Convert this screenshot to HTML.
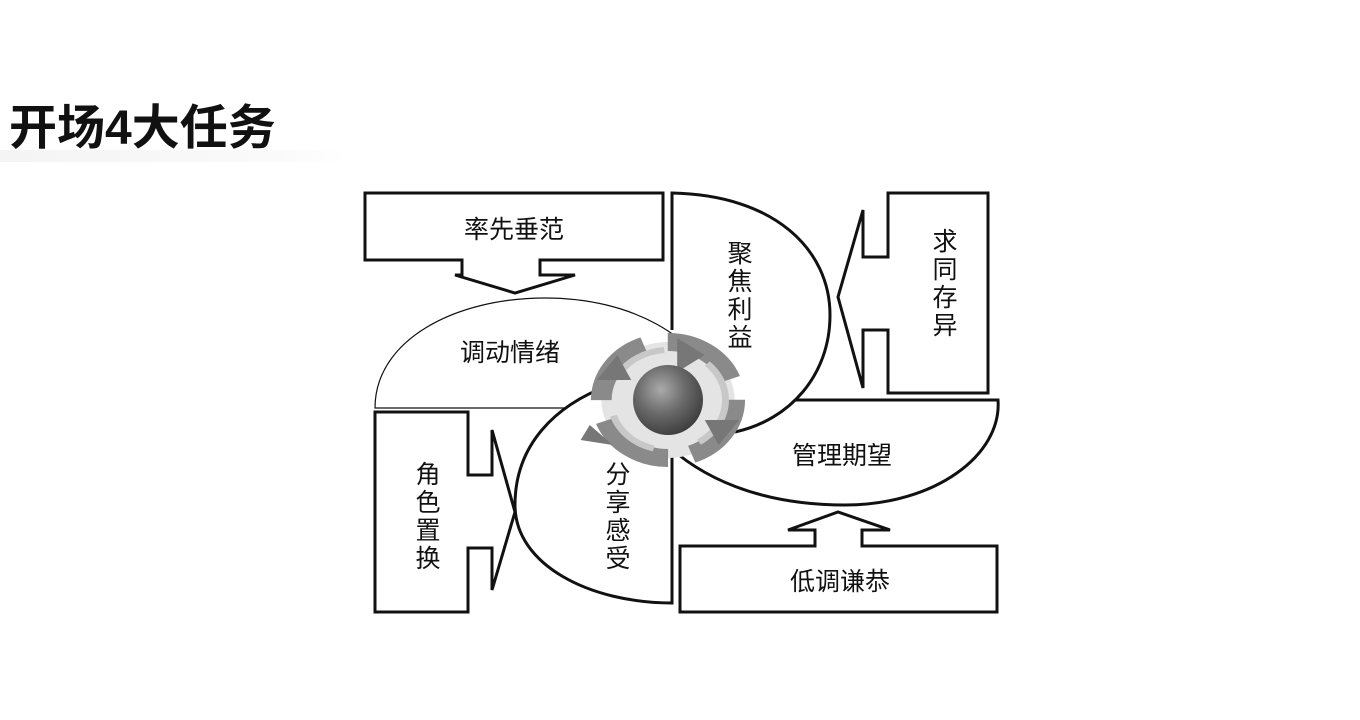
<!DOCTYPE html>
<html><head><meta charset="utf-8"><style>
body{margin:0;width:1360px;height:720px;background:#fff;overflow:hidden;position:relative;font-family:"Liberation Sans","Noto Sans CJK SC",sans-serif}
.t{position:absolute;left:9px;top:88px;font-size:48px;font-weight:bold;color:#111;letter-spacing:0px}
.u{position:absolute;left:0;top:150px;width:345px;height:12px;background:linear-gradient(90deg,#f4f4f4,#fafafa 80%,#fff)}
svg{position:absolute;left:0;top:0}
text{font-family:"Liberation Sans","Noto Sans CJK SC",sans-serif;font-size:25px;fill:#111}
</style></head><body>
<div class="u"></div>
<div class="t">开场4大任务</div>
<svg width="1360" height="720">
<defs>
<radialGradient id="g" cx="40%" cy="35%" r="70%"><stop offset="0" stop-color="#aaa"/><stop offset=".5" stop-color="#6a6a6a"/><stop offset="1" stop-color="#3a3a3a"/></radialGradient>
</defs>
<g fill="#fff" stroke="#111" stroke-width="3" stroke-linejoin="miter">
<path d="M365,193 H663 V260 H540 V275 H575 L515,293 L455,275 H462 V260 H365 Z"/>
<path d="M888,193 H988 V393 H888 V330 H863 V388 L838,297 L863,210 V257 H888 Z"/>
<path d="M375,412 H468 V475 H492 V430 L515,512 L492,590 V548 H468 V612 H375 Z"/>
<path d="M680,546 H815 V530 H788 L838,512 L890,530 H862 V546 H997 V612 H680 Z"/>
</g>
<path d="M375,408 C375,340 455,298 545,298 C630,298 700,335 722,398 L600,390 L583,408 Z" fill="#fff" stroke="none"/>
<path d="M583,408 H375 C375,340 455,298 545,298 C630,298 700,335 722,398" fill="none" stroke="#111" stroke-width="1.2"/>
<g fill="#fff" stroke="none">
<path d="M672,455 V603 C590,603 515,565 515,505 C515,445 555,405 610,385 L672,455 Z"/>
<path d="M672,330 V193 C775,195 830,250 830,315 C830,375 790,420 735,432 L672,330 Z"/>
<path d="M795,400 H998 C1002,455 935,505 845,505 C760,505 700,478 662,440 Z"/>
</g>
<g fill="none" stroke="#111" stroke-width="3">
<path d="M672,455 V603 C590,603 515,565 515,505 C515,445 555,405 610,385"/>
<path d="M672,330 V193 C775,195 830,250 830,315 C830,375 790,420 735,432"/>
<path d="M795,400 H998 C1002,455 935,505 845,505 C760,505 700,478 662,440"/>
</g>
<g transform="translate(668,400) scale(1.15,1) translate(-668,-400)">
<circle cx="668" cy="400" r="58" fill="#e4e4e4" stroke="none"/>
<circle cx="668" cy="400" r="58" fill="none" stroke="#8a8a8a" stroke-width="18" stroke-dasharray="70 21"/>
<circle cx="668" cy="400" r="50" fill="none" stroke="#c8c8c8" stroke-width="6" stroke-dasharray="50 41"/>
<path d="M676,338 L700,355 L676,372 Z" fill="#777"/>
<path d="M730,420 L712,445 L700,420 Z" fill="#777"/>
<path d="M606,380 L624,355 L636,380 Z" fill="#777"/>
<path d="M600,425 L620,445 L592,440 Z" fill="#777"/>
</g>
<circle cx="668" cy="400" r="35" fill="url(#g)"/>
<text x="514" y="238" text-anchor="middle">率先垂范</text>
<text x="510" y="361" text-anchor="middle">调动情绪</text>
<text x="842" y="464" text-anchor="middle">管理期望</text>
<text x="840" y="590" text-anchor="middle">低调谦恭</text>
<g text-anchor="middle">
<text x="740" y="262">聚</text><text x="740" y="290">焦</text><text x="740" y="318">利</text><text x="740" y="346">益</text>
<text x="945" y="250">求</text><text x="945" y="278">同</text><text x="945" y="306">存</text><text x="945" y="334">异</text>
<text x="428" y="483">角</text><text x="428" y="511">色</text><text x="428" y="539">置</text><text x="428" y="567">换</text>
<text x="618" y="483">分</text><text x="618" y="511">享</text><text x="618" y="539">感</text><text x="618" y="567">受</text>
</g>
</svg>
</body></html>
